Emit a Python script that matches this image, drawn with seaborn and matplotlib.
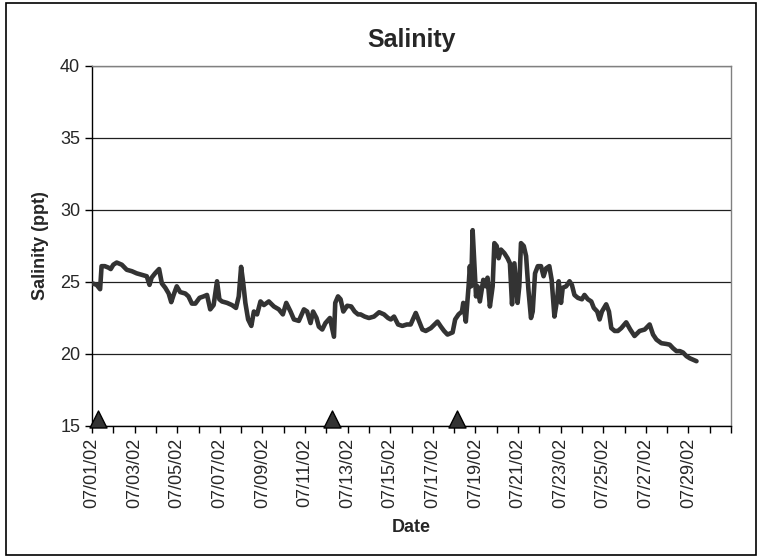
import matplotlib
matplotlib.use("Agg")
import matplotlib.pyplot as plt
import matplotlib.ticker as mticker
from matplotlib.patches import Rectangle
import seaborn as sns
import pandas as pd

# Salinity readings, time in days since 07/01/02 00:00
days = [0.03, 0.22, 0.38, 0.45, 0.6, 0.77, 0.88, 1.0, 1.16, 1.4, 1.63, 1.87, 2.1, 2.34, 2.57,
        2.7, 2.8, 2.96, 3.15, 3.28, 3.44, 3.6, 3.72, 3.83, 3.98, 4.14, 4.38, 4.53, 4.69, 4.85,
        5.05, 5.24, 5.4, 5.55, 5.71, 5.87, 5.98, 6.1, 6.34, 6.57, 6.76, 6.89, 7.0, 7.09, 7.2,
        7.33, 7.48, 7.6, 7.75, 7.91, 8.07, 8.3, 8.54, 8.77, 8.96, 9.12, 9.32, 9.48, 9.71, 9.95,
        10.1, 10.26, 10.38, 10.54, 10.65, 10.81, 10.96, 11.17, 11.36, 11.42, 11.55, 11.67, 11.8,
        11.98, 12.17, 12.33, 12.49, 12.61, 12.8, 13.0, 13.24, 13.48, 13.71, 13.9, 14.03, 14.18,
        14.37, 14.57, 14.78, 14.96, 15.2, 15.36, 15.51, 15.67, 15.91, 16.22, 16.38, 16.53, 16.69,
        16.93, 17.05, 17.21, 17.37, 17.43, 17.55, 17.68, 17.74, 17.8, 17.87, 17.95, 18.03, 18.1,
        18.21, 18.37, 18.49, 18.57, 18.68, 18.81, 18.89, 19.0, 19.09, 19.2, 19.36, 19.51, 19.62,
        19.72, 19.83, 19.98, 20.06, 20.14, 20.27, 20.38, 20.49, 20.61, 20.69, 20.8, 20.93, 21.08,
        21.2, 21.32, 21.47, 21.58, 21.71, 21.84, 21.91, 22.02, 22.1, 22.26, 22.42, 22.53, 22.65,
        22.81, 23.0, 23.12, 23.28, 23.44, 23.56, 23.72, 23.83, 23.94, 24.14, 24.27, 24.38, 24.54,
        24.69, 24.85, 25.08, 25.27, 25.47, 25.71, 25.95, 26.18, 26.34, 26.5, 26.73, 26.96, 27.12,
        27.28, 27.44, 27.6, 27.75, 27.91, 28.07, 28.22, 28.38]
salinity = [24.9, 24.8, 24.5, 26.1, 26.1, 26.0, 25.9, 26.2, 26.35, 26.2, 25.85, 25.75, 25.6, 25.5, 25.4,
            24.8, 25.3, 25.6, 25.9, 24.9, 24.6, 24.2, 23.6, 24.1, 24.7, 24.3, 24.2, 24.0, 23.5, 23.5,
            23.9, 24.0, 24.1, 23.1, 23.4, 25.05, 23.8, 23.65, 23.55, 23.4, 23.2, 24.0, 26.05, 25.05, 23.55,
            22.4, 21.95, 22.95, 22.75, 23.65, 23.4, 23.65, 23.3, 23.1, 22.75, 23.55, 22.95, 22.4, 22.3, 23.1,
            22.95, 22.15, 22.95, 22.5, 21.9, 21.7, 22.15, 22.5, 21.2, 23.55, 24.0, 23.8, 22.95,
            23.35, 23.3, 22.95, 22.75, 22.75, 22.6, 22.5, 22.6, 22.9, 22.75, 22.5, 22.4, 22.6,
            22.05, 21.95, 22.05, 22.05, 22.85, 22.25, 21.7, 21.6, 21.8, 22.25, 21.9, 21.6, 21.35,
            21.5, 22.4, 22.75, 22.95, 23.55, 22.25, 24.7, 26.1, 24.7, 28.6, 26.3, 24.0, 24.7,
            23.65, 25.15, 24.7, 25.3, 23.3, 24.7, 27.7, 27.5, 26.65, 27.25, 27.0, 26.65, 26.3,
            23.45, 26.3, 23.55, 24.7, 27.7, 27.5, 26.8, 24.45, 22.5, 22.95, 25.6, 26.1, 26.1,
            25.4, 25.95, 26.1, 25.15, 22.6, 23.8, 25.05, 23.55, 24.6, 24.7, 25.05, 24.8, 24.1,
            23.9, 23.8, 24.1, 23.8, 23.65, 23.2, 22.95, 22.4, 22.95, 23.45, 22.95, 21.8, 21.6,
            21.6, 21.8, 22.2, 21.7, 21.25, 21.6, 21.7, 22.05, 21.35, 21.0, 20.75, 20.7, 20.65,
            20.4, 20.2, 20.2, 20.1, 19.85, 19.7, 19.6, 19.5]

# Event markers (triangles on the x axis)
event_days = [0.27, 11.25, 17.14]
event_level = [15.5, 15.5, 15.5]

# Tick labels, one every two days
tick_labels = ["07/01/02", "07/03/02", "07/05/02", "07/07/02", "07/09/02", "07/11/02",
               "07/13/02", "07/15/02", "07/17/02", "07/19/02", "07/21/02", "07/23/02",
               "07/25/02", "07/27/02", "07/29/02"]

df = pd.DataFrame({"day": days, "salinity": salinity})
events = pd.DataFrame({"day": event_days, "level": event_level})

sns.set_style("white")
plt.rcParams["font.family"] = ["Liberation Sans", "DejaVu Sans"]

fig = plt.figure(figsize=(7.63, 5.58), dpi=100)
ax = fig.add_axes([92 / 763, 1 - 426 / 558, (731 - 92) / 763, (426 - 66) / 558])

sns.lineplot(data=df, x="day", y="salinity", ax=ax, color="#333333", linewidth=3.3,
             estimator=None, sort=False, zorder=3)
sns.scatterplot(data=events, x="day", y="level", ax=ax, marker="^", s=150,
                color="#333333", edgecolor="black", linewidth=1, zorder=4, clip_on=False)

ax.set_xlim(0, 30)
ax.set_ylim(15, 40)
ax.set_yticks([15, 20, 25, 30, 35, 40])
ax.set_xticks(range(0, 30, 2))
ax.set_xticklabels(tick_labels, rotation=90)
ax.xaxis.set_minor_locator(mticker.MultipleLocator(1))
ax.tick_params(axis="both", which="both", direction="out", length=5, width=1,
               color="black", labelsize=13)
ax.tick_params(axis="x", which="both", bottom=True)
ax.tick_params(axis="y", left=True)

ax.grid(True, axis="y", color="#202020", linewidth=0.9)
ax.set_axisbelow(True)

for side in ["top", "right"]:
    ax.spines[side].set_color("#808080")
    ax.spines[side].set_linewidth(1)
for side in ["left", "bottom"]:
    ax.spines[side].set_color("black")
    ax.spines[side].set_linewidth(1)

ax.set_title("Salinity", fontsize=18, fontweight="bold", pad=14)
ax.set_xlabel("Date", fontsize=13, fontweight="bold", labelpad=8)
ax.set_ylabel("Salinity (ppt)", fontsize=13, fontweight="bold", labelpad=8)

# outer chart border
fig.patches.append(Rectangle((6 / 763, 3 / 558), 750 / 763, 552 / 558, transform=fig.transFigure,
                             fill=False, edgecolor="black", linewidth=1.2))

fig.savefig("out.png", dpi=100)
